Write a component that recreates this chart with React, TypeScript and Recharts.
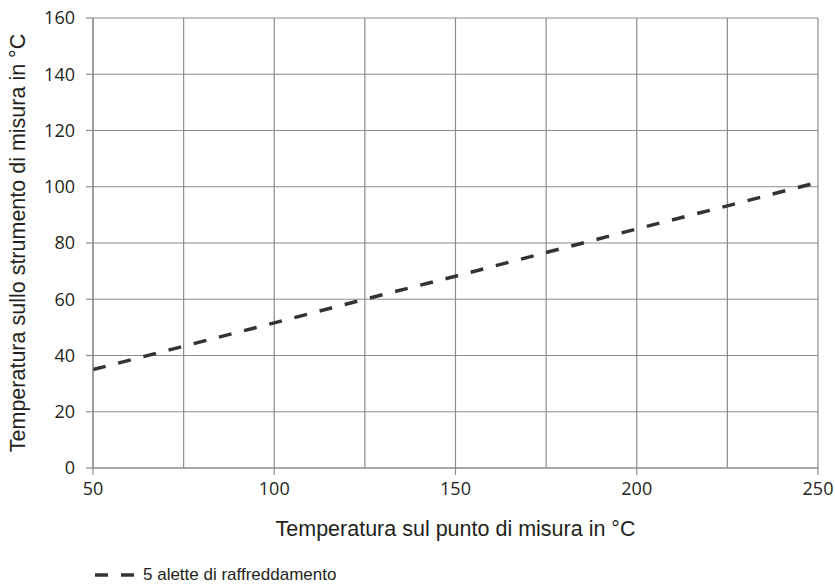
import { LineChart, Line, XAxis, YAxis, CartesianGrid, ReferenceLine } from "recharts";

const puntoMisura = [50, 75, 100, 125, 150, 175, 200, 225, 250];
const alette5 = [35, 43.3, 51.6, 60, 68.2, 76.6, 85, 93.2, 101.6];
const xTicks = [50, 100, 150, 200, 250];
const xMinor = [75, 125, 175, 225];
const yTicks = [0, 20, 40, 60, 80, 100, 120, 140, 160];

const data = puntoMisura.map((x, i) => ({ x, alette5: alette5[i] }));

const grid = "#8c8c8c";
const ink = "#231f20";
const font = "'Liberation Sans', Arial, sans-serif";
const tickFont = "'Open Sans', sans-serif";

export default function App() {
  return (
    <div style={{ position: "absolute", left: 0, top: 0, width: 835, height: 587, background: "#fff", fontFamily: font }}>
      <LineChart width={835} height={587} data={data} margin={{ top: 18, right: 17, left: 0, bottom: 0 }}>
        <CartesianGrid stroke={grid} strokeWidth={1.2} />
        {xMinor.map((v) => (
          <ReferenceLine key={v} x={v} stroke={grid} strokeWidth={1.2} ifOverflow="extendDomain" />
        ))}
        <XAxis
          dataKey="x"
          type="number"
          domain={[50, 250]}
          ticks={xTicks}
          height={119}
          tickSize={7}
          tickMargin={7}
          stroke={grid}
          strokeWidth={1.2}
          tick={{ fill: ink, fontSize: 18, fontFamily: tickFont }}
          label={{ value: "Temperatura sul punto di misura in °C", position: "insideTop", offset: 53, fill: ink, fontSize: 21.5, fontFamily: font }}
        />
        <YAxis
          type="number"
          domain={[0, 160]}
          ticks={yTicks}
          width={93}
          tickSize={7}
          tickMargin={11}
          stroke={grid}
          strokeWidth={1.2}
          tick={{ fill: ink, fontSize: 18, fontFamily: tickFont }}
          label={{ value: "Temperatura sullo strumento di misura in °C", angle: -90, position: "insideLeft", offset: 17, fill: ink, fontSize: 21.5, fontFamily: font, style: { textAnchor: "middle" } }}
        />
        <Line
          type="linear"
          dataKey="alette5"
          stroke="#333"
          strokeWidth={3.5}
          strokeDasharray="13 13"
          dot={false}
          isAnimationActive={false}
        />
      </LineChart>
      <div style={{ position: "absolute", left: 95, top: 565, display: "flex", alignItems: "center", fontSize: 17, color: ink }}>
        <svg width={40} height={12}>
          <line x1={0} y1={6} x2={40} y2={6} stroke="#333" strokeWidth={3.5} strokeDasharray="13 13" />
        </svg>
        <span style={{ marginLeft: 8 }}>5 alette di raffreddamento</span>
      </div>
    </div>
  );
}
